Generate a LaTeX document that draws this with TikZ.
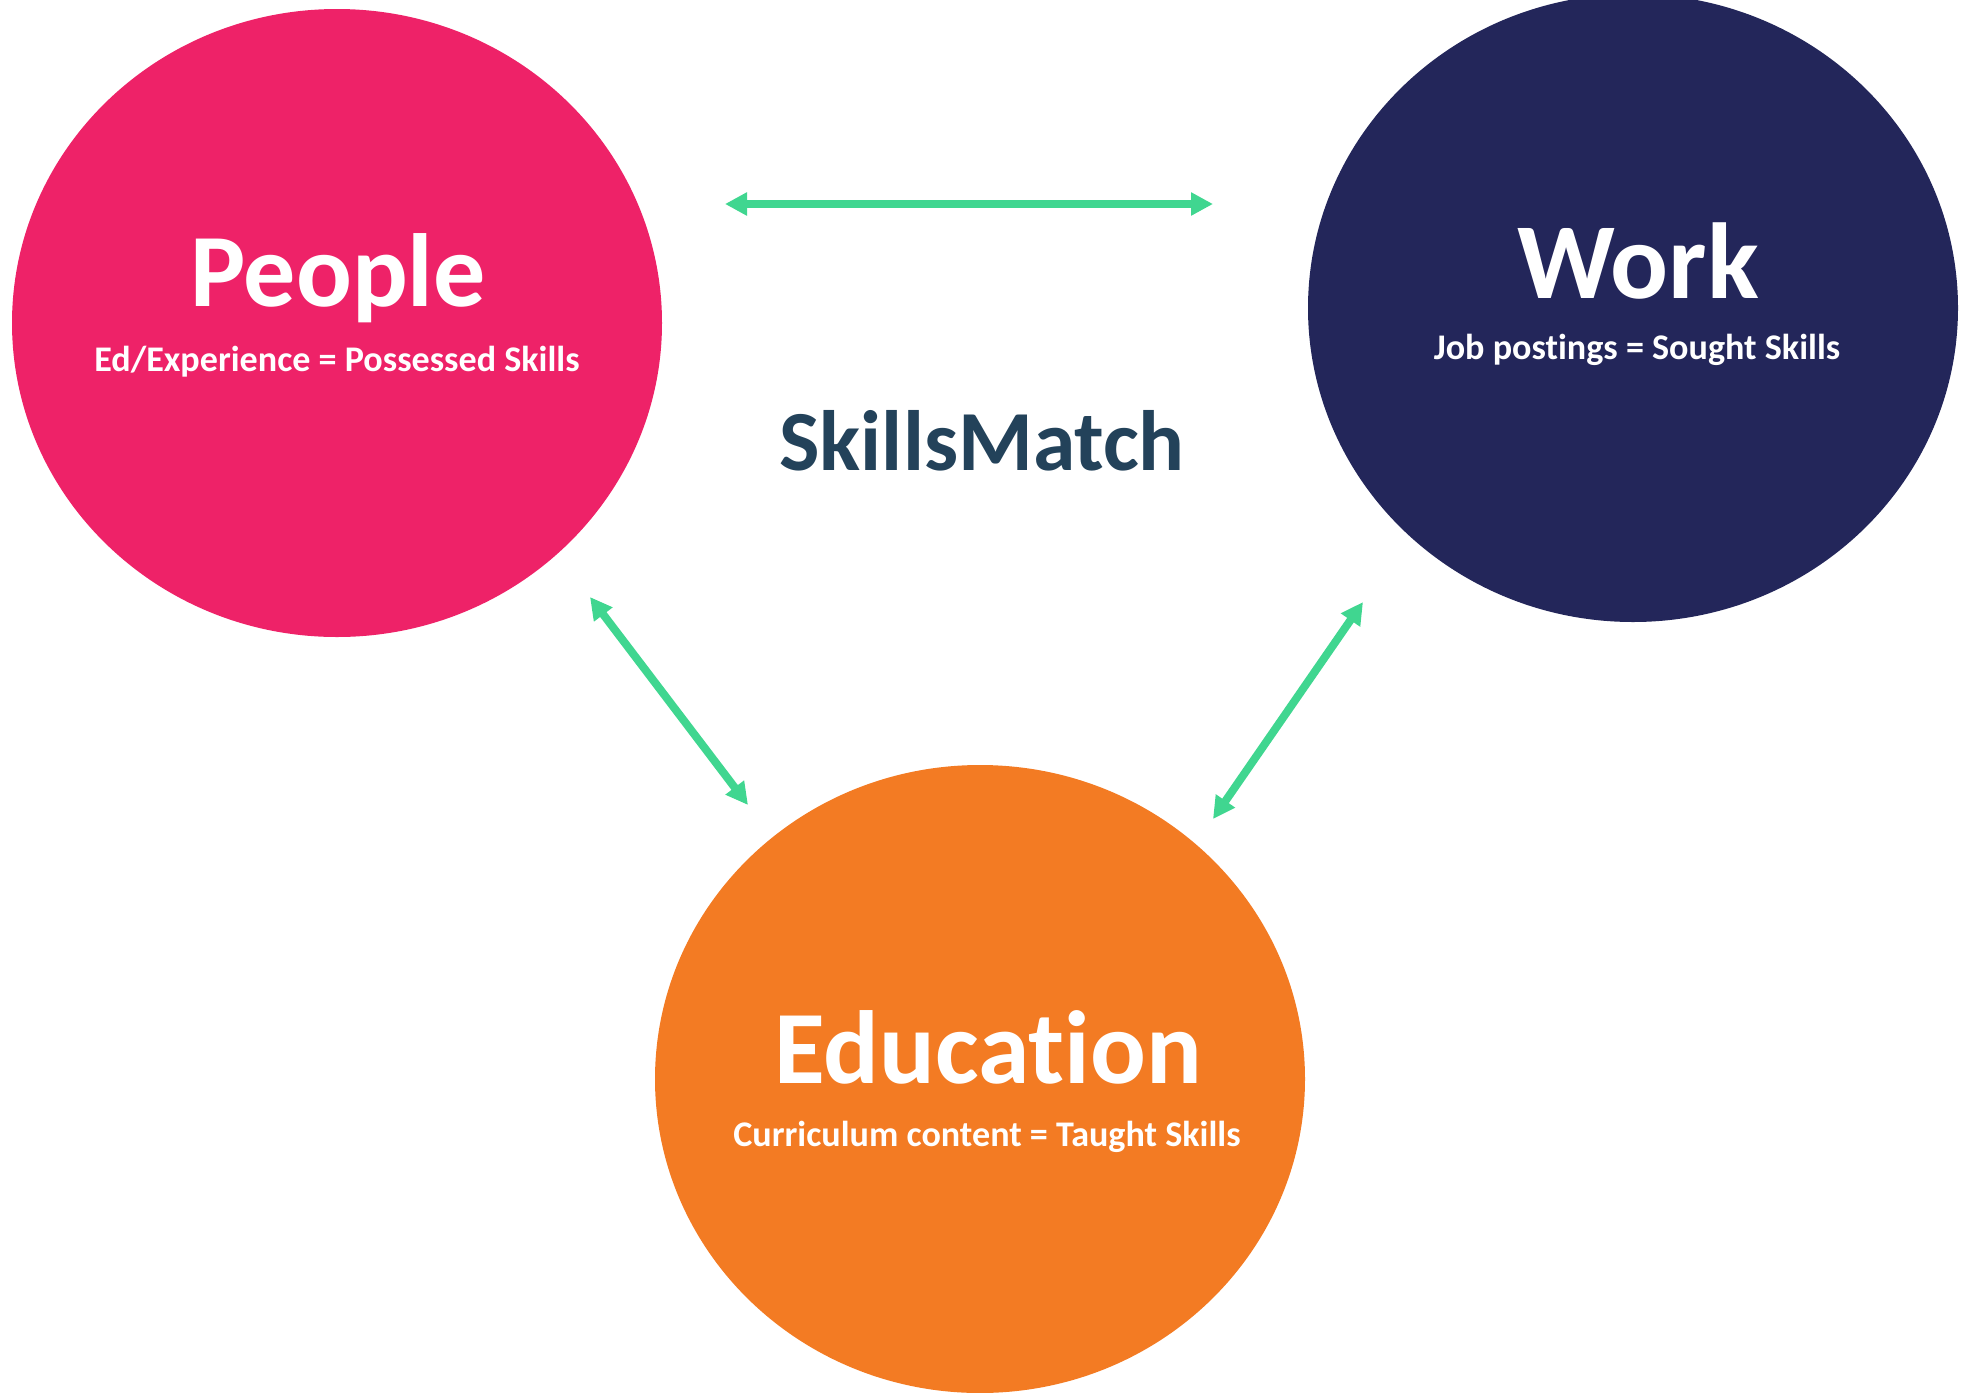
\documentclass[tikz,border=0pt]{standalone}
\usepackage{fontspec}
\setmainfont{Carlito}[Ligatures=NoCommon]
\usetikzlibrary{arrows.meta,positioning,shapes.geometric}
\definecolor{peoplepink}{RGB}{238,34,104}
\definecolor{worknavy}{RGB}{35,38,90}
\definecolor{eduorange}{RGB}{243,123,35}
\definecolor{linkgreen}{RGB}{64,214,144}
\definecolor{titleblue}{RGB}{35,66,90}

\begin{document}
\begin{tikzpicture}[x=0.5pt,y=-0.5pt,
    blob/.style={ellipse, minimum width=325pt, minimum height=314pt, inner sep=0pt},
    headline/.style={white, font=\bfseries\fontsize{52}{52}\selectfont, anchor=base, inner sep=0pt},
    subline/.style={white, font=\bfseries\fontsize{18.05}{18.05}\selectfont, anchor=base, inner sep=0pt},
    link/.style={linkgreen, line width=4pt, {Triangle[length=11pt,width=11pt]}-{Triangle[length=11pt,width=11pt]}}]
    \useasboundingbox (0,0) rectangle (1961,1393);
    \clip (0,0) rectangle (1961,1393);
    % the three circles
    \node[blob, fill=peoplepink] (people) at (337,323) {};
    \node[blob, fill=worknavy] (work) at (1633,308) {};
    \node[blob, fill=eduorange] (education) at (980,1079) {};
    % their texts
    \node[headline] (peopletitle) at (338,306) {People};
    \node[subline] (peoplesub) at (337,371) {Ed/Experience = Possessed Skills};
    \node[headline, font=\bfseries\fontsize{54}{54}\selectfont] (worktitle) at (1638,298) {Work};
    \node[subline] (worksub) at (1637,359) {Job postings = Sought Skills};
    \node[headline] (edutitle) at (988,1083) {Education};
    \node[subline] (edusub) at (987,1146) {Curriculum content = Taught Skills};
    \node[titleblue, font=\bfseries\fontsize{42.8}{42.8}\selectfont, anchor=base, inner sep=0pt] (skillsmatch) at (982,470) {SkillsMatch};
    % arrow ends
    \coordinate (pw1) at (725,204);
    \coordinate (pw2) at (1213,204);
    \coordinate (pe1) at (590,597);
    \coordinate (pe2) at (748,805);
    \coordinate (we1) at (1363,602);
    \coordinate (we2) at (1213,819);
    \draw[link] (pw1) -- (pw2);
    \draw[link] (pe1) -- (pe2);
    \draw[link] (we1) -- (we2);
\end{tikzpicture}
\end{document}
